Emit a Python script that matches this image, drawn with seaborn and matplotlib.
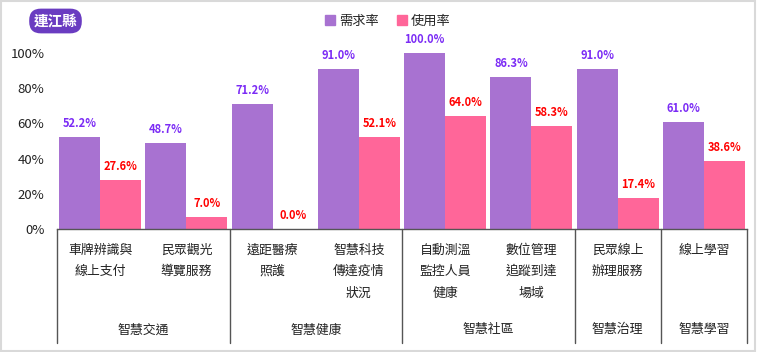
import matplotlib
matplotlib.use("Agg")
import matplotlib.pyplot as plt
import matplotlib.patches as mpatches
from matplotlib.lines import Line2D
import matplotlib.transforms as mtrans
import seaborn as sns
import pandas as pd

sns.set_theme(style="white")
plt.rcParams['font.family'] = ['Noto Sans CJK TC', 'DejaVu Sans']

title = "連江縣"
items = ["車牌辨識與\n線上支付", "民眾觀光\n導覽服務", "遠距醫療\n照護", "智慧科技\n傳達疫情\n狀況",
         "自動測溫\n監控人員\n健康", "數位管理\n追蹤到達\n場域", "民眾線上\n辦理服務", "線上學習"]
groups = ["智慧交通", "智慧交通", "智慧健康", "智慧健康", "智慧社區", "智慧社區", "智慧治理", "智慧學習"]
demand = [52.2, 48.7, 71.2, 91.0, 100.0, 86.3, 91.0, 61.0]
usage = [27.6, 7.0, 0.0, 52.1, 64.0, 58.3, 17.4, 38.6]
series = ["需求率", "使用率"]
yticks = [0, 20, 40, 60, 80, 100]

bar_colors = ["#A872D1", "#FF6699"]
text_colors = ["#7B2BF5", "#FF0000"]

df = pd.DataFrame({
    "item": items * 2,
    "value": demand + usage,
    "series": [series[0]] * len(items) + [series[1]] * len(items),
})

fig = plt.figure(figsize=(7.57, 3.52), dpi=100)
ax = fig.add_axes([57/757, 1-229/352, 690/757, 176/352])
sns.barplot(data=df, x="item", y="value", hue="series", palette=bar_colors,
            width=0.95, ax=ax, legend=False, saturation=1, linewidth=0)

for cont, col in zip(ax.containers, text_colors):
    ax.bar_label(cont, labels=[f"{v:.1f}%" for v in cont.datavalues], padding=5,
                 color=col, fontsize=8, fontweight='bold', clip_on=False)

ax.set_ylim(0, 100)
ax.set_xlim(-0.5, len(items) - 0.5)
ax.set_yticks(yticks)
ax.set_yticklabels([f"{t}%" for t in yticks], fontsize=9.5, color="#222222")
ax.tick_params(axis='y', length=0, pad=9)
ax.set_xticks(range(len(items)))
ax.set_xticklabels(items, fontsize=9.3, linespacing=1.85, color="#222222", va='top')
ax.tick_params(axis='x', length=0, pad=10.5)
ax.set_xlabel("")
ax.set_ylabel("")
for s in ["top", "right", "left"]:
    ax.spines[s].set_visible(False)
ax.spines["bottom"].set_color("#555555")
ax.spines["bottom"].set_linewidth(1)

# group labels and separators
trans = mtrans.blended_transform_factory(ax.transData, ax.transAxes)
bottom_y = -(343 - 229) / 176
bounds = [-0.5]
uniq = []
for i, g in enumerate(groups):
    if i == len(groups) - 1 or groups[i + 1] != g:
        bounds.append(i + 0.5)
        uniq.append(g)
for b in bounds:
    ax.add_line(Line2D([b, b], [0, bottom_y], transform=trans, color="#555555",
                       linewidth=1, clip_on=False))
for g, a, b in zip(uniq, bounds[:-1], bounds[1:]):
    ax.text((a + b) / 2, -(330 - 229) / 176, g, transform=trans, ha='center',
            va='center', fontsize=9.3, color="#222222")

# legend
handles = [Line2D([], [], marker='s', linestyle='', markersize=7, color=c) for c in bar_colors]
fig.legend(handles, series, loc='center', bbox_to_anchor=(387/757, 1-21/352), ncol=2,
           frameon=False, fontsize=9.5, handletextpad=0.2, columnspacing=1.2, handlelength=1)

# title badge
fig.text(55.5/757, 1-21/352, title, ha='center', va='center', color='white', fontsize=10.5,
         fontweight='bold',
         bbox=dict(boxstyle='round,pad=0.3,rounding_size=0.8', fc='#6A3CC1', ec='none'))

# border
fig.patches.append(mpatches.Rectangle((0.001, 0.002), 0.997, 0.995, transform=fig.transFigure,
                                      fill=False, edgecolor='#d9d9d9', linewidth=1.5))

fig.savefig("out.png", dpi=100)
